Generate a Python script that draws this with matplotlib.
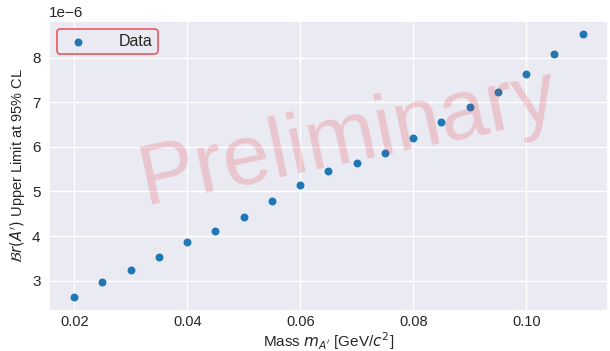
import matplotlib
matplotlib.use("Agg")
import matplotlib.pyplot as plt
import seaborn as sns

sns.set_theme(style="darkgrid")
plt.rcParams['font.family'] = ['Liberation Sans', 'DejaVu Sans']
plt.rcParams['mathtext.fontset'] = 'dejavusans'

# mass points (GeV/c^2) and upper limits (x1e-6)
mass = [0.020, 0.025, 0.030, 0.035, 0.040, 0.045, 0.050, 0.055, 0.060, 0.065,
        0.070, 0.075, 0.080, 0.085, 0.090, 0.095, 0.100, 0.105, 0.110]
limit = [2.62, 2.96, 3.24, 3.52, 3.86, 4.12, 4.43, 4.79, 5.15, 5.45,
         5.63, 5.86, 6.19, 6.56, 6.90, 7.23, 7.63, 8.08, 8.53]
limit = [v * 1e-6 for v in limit]

fig, ax = plt.subplots(figsize=(6.1, 3.51), dpi=100)
ax.scatter(mass, limit, s=22, color='#1f77b4', label='Data', zorder=3)

ax.tick_params(axis='both', length=0)
ax.tick_params(axis='x', pad=3, labelsize=10.5)
ax.tick_params(axis='y', pad=6, labelsize=11)
ax.set_xlabel(r"Mass $m_{A'}$ [GeV/$c^2$]", fontsize=11, labelpad=1)
ax.set_ylabel(r"$\mathcal{B}r(A')$ Upper Limit at 95% CL", labelpad=3,
              fontsize=10.5)

leg = ax.legend(loc='upper left', frameon=True, handletextpad=1.6,
                borderpad=0.3, fontsize=11.5)
leg.get_frame().set_edgecolor('#e8333d')
leg.get_frame().set_linewidth(1.2)

ax.text(0.535, 0.595, 'Preliminary', transform=ax.transAxes, fontsize=61,
        color='#e8333d', alpha=0.2, rotation=12, ha='center', va='center')

fig.subplots_adjust(left=0.08, right=0.997, top=0.94, bottom=0.115)
fig.savefig('out.png')
